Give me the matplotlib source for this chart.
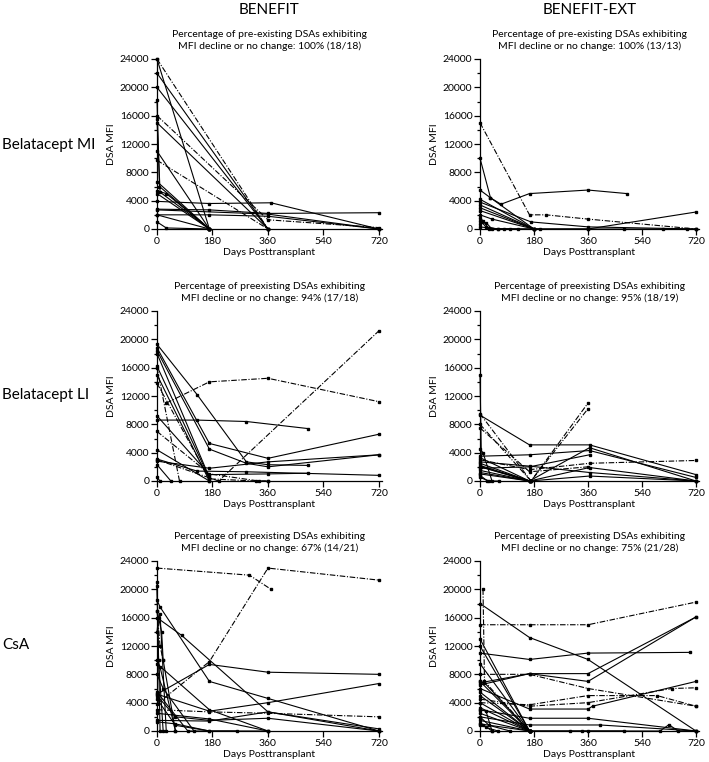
import matplotlib
matplotlib.use("Agg")
import matplotlib.pyplot as plt
from matplotlib.ticker import MultipleLocator

plt.rcParams['font.family'] = ['Lato', 'DejaVu Sans']

columns = ["BENEFIT", "BENEFIT-EXT"]
rows = ["Belatacept MI", "Belatacept LI", "CsA"]
subtitles = [
    ["Percentage of pre-existing DSAs exhibiting\nMFI decline or no change: 100% (18/18)",
     "Percentage of pre-existing DSAs exhibiting\nMFI decline or no change: 100% (13/13)"],
    ["Percentage of preexisting DSAs exhibiting\nMFI decline or no change: 94% (17/18)",
     "Percentage of preexisting DSAs exhibiting\nMFI decline or no change: 95% (18/19)"],
    ["Percentage of preexisting DSAs exhibiting\nMFI decline or no change: 67% (14/21)",
     "Percentage of preexisting DSAs exhibiting\nMFI decline or no change: 75% (21/28)"],
]

# one entry per DSA: (days posttransplant, MFI)
benefit_mi = [
    ([0, 360], [24000, 0]),
    ([0, 170], [24000, 0]),
    ([0, 360], [22000, 0]),
    ([0, 360], [20000, 0]),
    ([0, 8, 170], [18200, 6000, 0]),
    ([0, 360, 720], [16000, 1300, 200]),
    ([0, 360], [15000, 0]),
    ([0, 10, 170], [15500, 5200, 0]),
    ([0, 170], [11000, 0]),
    ([0, 360], [9700, 0]),
    ([0, 170], [6700, 0]),
    ([0, 30, 170], [5400, 5000, 0]),
    ([0, 170], [5000, 0]),
    ([0, 170, 370, 720], [3900, 3600, 3700, 0]),
    ([0, 170, 360, 720], [2800, 2700, 2200, 2300]),
    ([0, 360, 720], [2700, 2100, 0]),
    ([0, 170, 360, 720], [2000, 2000, 1800, 0]),
    ([0, 170], [2000, 0]),
    ([0, 30, 170], [1000, 150, 0]),
]
benefit_mi_broken = [0, 5, 9]

ext_mi = [
    ([0, 165, 220, 360, 720], [15000, 2000, 2000, 1400, 0]),
    ([0, 35, 70, 165, 360, 490], [10000, 4400, 3500, 5000, 5500, 5000]),
    ([0, 35, 180], [5500, 4400, 0]),
    ([0, 180], [4200, 0]),
    ([0, 170, 360, 720], [3800, 1000, 300, 0]),
    ([0, 180, 360, 720], [3400, 0, 0, 2400]),
    ([0, 180], [3000, 0]),
    ([0, 180], [2600, 0]),
    ([0, 40, 180], [2000, 1400, 0]),
    ([0, 10, 30, 100], [1500, 1200, 0, 0]),
    ([0, 20, 60, 200], [1200, 300, 0, 0]),
    ([0, 20, 40, 80, 125], [700, 900, 0, 0, 0]),
    ([0, 60, 360, 480, 610, 690, 720], [300, 0, 0, 0, 0, 0, 0]),
]
ext_mi_broken = [0]

benefit_li = [
    ([0, 200, 720], [3000, 0, 21200]),
    ([30, 170, 360, 720], [11000, 14000, 14500, 11200]),
    ([0, 130, 290, 490], [8600, 8600, 8400, 7400]),
    ([0, 170, 360, 720], [18800, 5300, 3200, 6600]),
    ([0, 170, 290, 360, 720], [18400, 4500, 2500, 2000, 3700]),
    ([0, 130, 290, 360, 490], [19300, 12200, 2700, 2300, 2200]),
    ([0, 170], [18000, 500]),
    ([0, 170], [16200, 400]),
    ([0, 170], [15000, 0]),
    ([0, 170, 320, 360], [13800, 300, 0, 0]),
    ([0, 170, 360, 490], [9200, 900, 1000, 1100]),
    ([0, 170, 330, 360], [7000, 1000, 0, 0]),
    ([0, 170], [4400, 0]),
    ([0, 130, 290, 720], [3100, 1400, 1300, 800]),
    ([0, 170, 360, 720], [2800, 1800, 2700, 3700]),
    ([0, 45], [2300, 0]),
    ([0, 73], [16000, 0]),
    ([0, 10], [500, 0]),
]
benefit_li_broken = [0, 1, 9, 11, 16]

ext_li = [
    ([0, 170, 360], [9500, 0, 11000]),
    ([0, 170, 360], [8000, 0, 10200]),
    ([0, 165, 365, 720], [9300, 5100, 5100, 900]),
    ([0, 165, 365, 720], [3500, 3700, 4300, 500]),
    ([0, 165, 365, 720], [2500, 0, 4700, 0]),
    ([0, 165, 365, 720], [3000, 1600, 2500, 2900]),
    ([0, 165, 365, 720], [2700, 2100, 1200, 0]),
    ([0, 165, 365, 720], [2000, 0, 1900, 0]),
    ([0, 165, 365, 720], [1500, 0, 700, 0]),
    ([0, 165], [1200, 0]),
    ([0, 165], [1000, 0]),
    ([0, 5, 165], [15000, 2000, 0]),
    ([0, 10, 40], [4500, 4000, 0]),
    ([0, 165, 360], [7500, 1300, 2000]),
    ([0, 25, 65], [800, 0, 0]),
    ([0, 165], [2200, 0]),
    ([0, 165, 365], [1800, 2000, 3700]),
    ([0, 165], [3300, 0]),
    ([0, 30], [500, 0]),
]
ext_li_broken = [0, 1, 5, 13]

benefit_csa = [
    ([0, 300, 370], [23000, 22000, 20000]),
    ([0, 170, 360, 720], [3800, 9800, 23000, 21300]),
    ([0, 170, 360, 720], [5200, 9400, 8300, 8000]),
    ([0, 10, 170, 360, 720], [18500, 17500, 7000, 4600, 0]),
    ([0, 80, 360, 720], [16000, 13500, 2700, 0]),
    ([0, 170, 360, 720], [5200, 2800, 4000, 6700]),
    ([0, 170, 360, 720], [3000, 2700, 2500, 2000]),
    ([0, 60, 170, 360, 720], [5000, 2000, 1500, 1800, 0]),
    ([0, 170, 360, 720], [1500, 1400, 2700, 300]),
    ([0, 60, 170, 360], [4500, 800, 0, 0]),
    ([0, 5, 20], [20500, 10000, 0]),
    ([0, 10], [21000, 0]),
    ([0, 15, 20, 60], [17000, 14000, 10000, 0]),
    ([0, 10, 60], [10000, 9000, 0]),
    ([0, 20, 120], [8000, 6000, 0]),
    ([0, 100, 260], [5500, 0, 0]),
    ([0, 170, 360], [2500, 1700, 0]),
    ([0, 60, 170], [1300, 1000, 0]),
    ([0, 10, 20], [17000, 12000, 10000]),
    ([0, 5, 10, 30], [14000, 16000, 16500, 0]),
    ([0, 170, 360], [9500, 3000, 0]),
]
benefit_csa_broken = [0, 1, 6, 18]

ext_csa = [
    ([0, 165, 360, 720], [15000, 15000, 15000, 18200]),
    ([0, 165, 360, 720], [18000, 13200, 10100, 0]),
    ([0, 165, 360, 700], [11000, 10100, 11000, 11100]),
    ([0, 165, 360, 720], [6800, 8100, 8100, 16100]),
    ([0, 165, 360, 720], [6500, 8100, 7000, 16100]),
    ([0, 165, 360, 720], [8000, 8000, 6000, 3500]),
    ([0, 165, 360, 640, 720], [4500, 3500, 4000, 6000, 6100]),
    ([0, 165, 360, 590, 720], [4000, 3700, 5000, 5000, 3500]),
    ([0, 165, 360, 375, 720], [6000, 3100, 3100, 3500, 7000]),
    ([0, 165, 360, 720], [3000, 1800, 1800, 0]),
    ([0, 165, 400, 720], [2000, 850, 850, 0]),
    ([0, 165, 360, 600, 630, 660, 720], [1500, 0, 0, 0, 900, 0, 0]),
    ([10, 15, 165], [20000, 7000, 0]),
    ([0, 165], [13000, 0]),
    ([0, 165], [12000, 0]),
    ([0, 165], [9500, 0]),
    ([0, 165], [7000, 0]),
    ([0, 165], [5500, 0]),
    ([0, 165], [5000, 0]),
    ([0, 165], [4000, 0]),
    ([0, 165], [3300, 0]),
    ([0, 165], [2500, 0]),
    ([0, 30, 100], [2000, 800, 0]),
    ([0, 20, 60], [1200, 500, 0]),
    ([0, 10, 40], [800, 900, 0]),
    ([0, 165, 300, 340, 480], [1000, 0, 0, 0, 0]),
    ([0, 20, 40], [3000, 2800, 0]),
    ([0, 15, 165], [7000, 6800, 0]),
]
ext_csa_broken = [0, 5, 6, 7, 12]

panels = [
    [(benefit_mi, benefit_mi_broken), (ext_mi, ext_mi_broken)],
    [(benefit_li, benefit_li_broken), (ext_li, ext_li_broken)],
    [(benefit_csa, benefit_csa_broken), (ext_csa, ext_csa_broken)],
]

DASHDOT = (0, (5, 1.5, 1, 1.5))

fig = plt.figure(figsize=(7.09, 7.62), dpi=100)

lefts = [157 / 709, 480 / 709]
widths = [225 / 709, 219 / 709]
bottoms = [1 - 229 / 762, 1 - 481 / 762, 1 - 731 / 762]
H = 170 / 762

for r in range(3):
    for c in range(2):
        ax = fig.add_axes([lefts[c], bottoms[r], widths[c], H])
        series, broken = panels[r][c]
        for i, (days, mfi) in enumerate(series):
            ls = DASHDOT if i in broken else '-'
            ax.plot(days, mfi, color='black', lw=0.8, linestyle=ls,
                    marker='s', markersize=1.8, clip_on=False, zorder=3)
        ax.set_xlim(0, 730)
        ax.set_ylim(0, 24000)
        ax.set_xticks([0, 180, 360, 540, 720])
        ax.set_yticks(range(0, 24001, 4000))
        ax.yaxis.set_minor_locator(MultipleLocator(2000))
        ax.spines['top'].set_visible(False)
        ax.spines['right'].set_visible(False)
        for s in ['left', 'bottom']:
            ax.spines[s].set_linewidth(0.9)
        ax.tick_params(which='major', length=4, width=0.9, labelsize=7.5, pad=1.5)
        ax.tick_params(which='minor', length=2, width=0.9)
        ax.set_ylabel("DSA MFI", fontsize=7.5, labelpad=3)
        ax.set_xlabel("Days Posttransplant", fontsize=7.5, labelpad=2)
        ax.set_title(subtitles[r][c], fontsize=7.5, pad=7, linespacing=1.3)

for c in range(2):
    fig.text(lefts[c] + widths[c] / 2, 1 - 10 / 762, columns[c], ha='center', va='center',
             fontsize=11)

row_y = [145, 395, 645]
for r in range(3):
    fig.text(2 / 709, 1 - row_y[r] / 762, rows[r], ha='left', va='center', fontsize=11)

fig.savefig("out.png", dpi=100)
